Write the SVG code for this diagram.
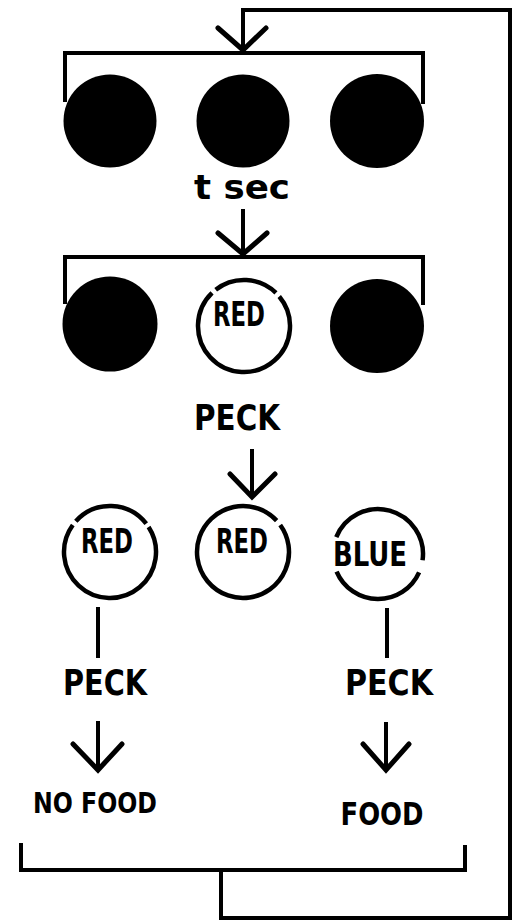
<svg xmlns="http://www.w3.org/2000/svg" width="513" height="922" viewBox="0 0 513 922">
<style>
.ln{fill:none;stroke:#000;stroke-width:4;stroke-linecap:square;stroke-linejoin:miter}
.ar{fill:none;stroke:#000;stroke-width:5;stroke-linecap:round;stroke-linejoin:miter}
.dot{fill:#000}
.ring{fill:none;stroke:#000;stroke-width:4.5}
.t{font-family:"Liberation Sans Narrow","DejaVu Sans Condensed","Liberation Sans",sans-serif;font-weight:bold;fill:#000;text-anchor:middle}
</style>
<rect width="513" height="922" fill="#fff"/>
<g id="connectors">
<polyline class="ln" points="243,48 243,10 510,10 510,918 221,918 221,870"/>
<polyline class="ln" points="21,845 21,870 465,870 465,847"/>
<polyline class="ar" points="218,28 243,50 266,28"/>
<polyline class="ln" points="65,100 65,53 423,53 423,102"/>
<line class="ln" x1="243" y1="211" x2="243" y2="252"/>
<polyline class="ar" points="218,233 243,254 267,233"/>
<polyline class="ln" points="65,302 65,257 423,257 423,303"/>
<line class="ln" x1="252" y1="451" x2="252" y2="495"/>
<polyline class="ar" points="230,474 252,497 275,474"/>
<line class="ln" x1="98" y1="609" x2="98" y2="656"/>
<line class="ln" x1="387" y1="610" x2="387" y2="656"/>
<line class="ln" x1="98" y1="723" x2="98" y2="768"/>
<polyline class="ar" points="73,744 98,770 122,744"/>
<line class="ln" x1="386" y1="724" x2="386" y2="768"/>
<polyline class="ar" points="363,744 386,770 409,744"/>
</g>
<g id="row1-left"><circle class="dot" cx="110" cy="121" r="46.5"/></g>
<g id="row1-mid"><circle class="dot" cx="243" cy="121" r="46.5"/></g>
<g id="row1-right"><circle class="dot" cx="377" cy="121" r="47"/></g>
<g id="t-sec"><text class="t" x="242" y="199" font-size="34" textLength="96" lengthAdjust="spacingAndGlyphs">t sec</text></g>
<g id="row2-left"><circle class="dot" cx="110" cy="324" r="47.5"/></g>
<g id="row2-mid">
<path class="ring" d="M215.68,289.75 A46,46 0 0 1 275.96,292.91 M279.24,296.43 A46,46 0 1 1 212.04,292.91"/>
<text class="t" x="239" y="326" font-size="33" textLength="52" lengthAdjust="spacingAndGlyphs">RED</text>
</g>
<g id="row2-right"><circle class="dot" cx="377" cy="326" r="47"/></g>
<g id="peck-mid"><text class="t" x="237" y="430" font-size="35" textLength="86" lengthAdjust="spacingAndGlyphs">PECK</text></g>
<g id="row3-left">
<path class="ring" d="M75.82,521.22 A46,46 0 0 1 146.25,523.68 M148.58,526.95 A46,46 0 1 1 72.79,524.96"/>
<text class="t" x="107" y="553" font-size="33" textLength="52" lengthAdjust="spacingAndGlyphs">RED</text>
</g>
<g id="row3-mid">
<path class="ring" d="M280.21,524.96 A46,46 0 1 1 276.64,520.63"/>
<text class="t" x="242" y="553" font-size="33" textLength="52" lengthAdjust="spacingAndGlyphs">RED</text>
</g>
<g id="row3-right">
<path class="ring" d="M336.28,537.14 A45,45 0 0 1 422.56,560.26 M419.11,572.30 A45,45 0 0 1 336.58,571.58"/>
<text class="t" x="370" y="566" font-size="33" textLength="74" lengthAdjust="spacingAndGlyphs">BLUE</text>
</g>
<g id="peck-left"><text class="t" x="105" y="695" font-size="35" textLength="84" lengthAdjust="spacingAndGlyphs">PECK</text></g>
<g id="peck-right"><text class="t" x="389" y="695" font-size="35" textLength="88" lengthAdjust="spacingAndGlyphs">PECK</text></g>
<g id="no-food"><text class="t" x="95" y="813" font-size="29" textLength="124" lengthAdjust="spacingAndGlyphs">NO FOOD</text></g>
<g id="food"><text class="t" x="382" y="825" font-size="32" textLength="83" lengthAdjust="spacingAndGlyphs">FOOD</text></g>
</svg>
